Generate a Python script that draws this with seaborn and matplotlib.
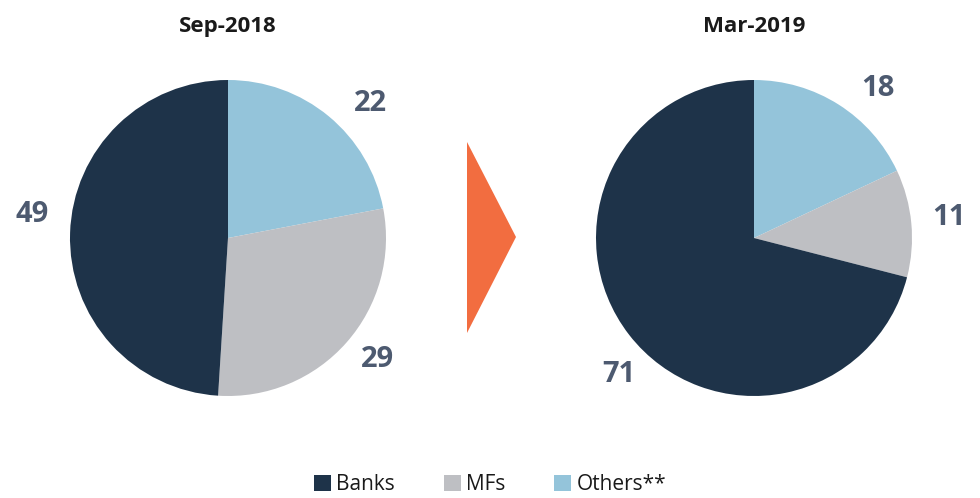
import numpy as np
import matplotlib
matplotlib.use("Agg")
import matplotlib.pyplot as plt
from matplotlib.patches import Patch, Polygon
import seaborn as sns

# Share of holdings by investor type (%)
categories = ["Others**", "MFs", "Banks"]
sep_2018 = [22, 29, 49]
mar_2019 = [18, 11, 71]
period_titles = ["Sep-2018", "Mar-2019"]
legend_order = ["Banks", "MFs", "Others**"]

sns.set_theme(style="white")
plt.rcParams["font.family"] = ["Open Sans", "DejaVu Sans"]

palette = {"Banks": "#1E3349", "MFs": "#BEBFC3", "Others**": "#94C4DA"}
label_color = "#4D5A70"

W, H = 980, 498
fig = plt.figure(figsize=(W / 100, H / 100), dpi=100)
ax = fig.add_axes([0, 0, 1, 1])

radius = 158
centers = [(228, H - 238), (754, H - 238)]
# radial distance (in radii) and angular nudge (deg) for each value label
label_layout = [
    [(1.24, 7), (1.22, -2.3), (1.25, 5)],
    [(1.23, 7.4), (1.24, -0.7), (1.216, -7.6)],
]

for values, (cx, cy), title, layout in zip([sep_2018, mar_2019], centers,
                                           period_titles, label_layout):
    colors = [palette[c] for c in categories]
    wedges, _ = ax.pie(values, colors=colors, startangle=90, counterclock=False,
                       center=(cx, cy), radius=radius, frame=True,
                       wedgeprops=dict(linewidth=0))
    total = sum(values)
    cum = 0
    for v, (rf, nudge) in zip(values, layout):
        mid = (cum + v / 2) / total * 360 + nudge
        cum += v
        theta = np.deg2rad(90 - mid)
        ax.text(cx + rf * radius * np.cos(theta), cy + rf * radius * np.sin(theta),
                f"{v}", ha="center", va="center", fontsize=21,
                fontweight="bold", color=label_color)
    ax.text(cx, H - 26, title, ha="center", va="center", fontsize=16,
            fontweight="bold", color="#1A1A1A")

# arrow between the two periods
ax.add_patch(Polygon([[467, H - 142], [516, H - 237], [467, H - 333]],
                     closed=True, facecolor="#F26D40", edgecolor="none"))

ax.set_xlim(0, W)
ax.set_ylim(0, H)
ax.set_aspect("equal")
ax.axis("off")

handles = [Patch(facecolor=palette[c], edgecolor="none", label=c) for c in legend_order]
fig.legend(handles=handles, loc="lower center", bbox_to_anchor=(0.5, 0.006),
           ncol=3, frameon=False, fontsize=15, handlelength=0.82, handleheight=0.82,
           handletextpad=0.25, columnspacing=2.35, borderpad=0, borderaxespad=0,
           labelcolor="#1A1A1A")

fig.savefig("out.png", dpi=100)
